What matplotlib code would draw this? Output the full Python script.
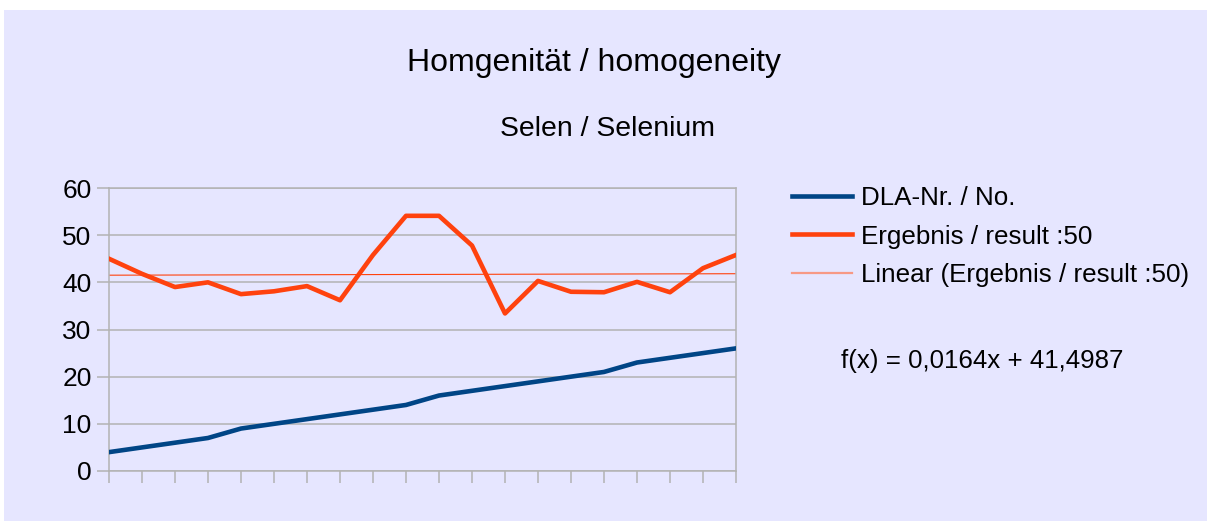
import matplotlib.pyplot as plt
from matplotlib.patches import Rectangle

plt.rcParams['font.family'] = ['Liberation Sans', 'DejaVu Sans']

samples = list(range(1, 21))
dla_no = [4, 5, 6, 7, 9, 10, 11, 12, 13, 14, 16, 17, 18, 19, 20, 21, 23, 24, 25, 26]
result = [45.0, 41.8, 39.0, 40.0, 37.5, 38.1, 39.2, 36.2, 45.8, 54.1,
          54.1, 47.8, 33.4, 40.3, 38.0, 37.9, 40.1, 37.9, 43.0, 45.8]
trend_slope = 0.0164
trend_intercept = 41.4987

bg = '#E6E6FF'
grid_col = '#B3B3B3'
blue = '#004586'
orange = '#FF420E'

W, H = 1207, 521
fig = plt.figure(figsize=(W / 100, H / 100), dpi=100, facecolor='white')
fig.patches.append(Rectangle((4 / W, 0), 1, (H - 10) / H, transform=fig.transFigure,
                             facecolor=bg, edgecolor='none', zorder=-10))

ax = fig.add_axes([109 / W, 1 - 471 / H, (736 - 109) / W, (471 - 188) / H])
ax.set_facecolor(bg)

trend = [trend_slope * x + trend_intercept for x in samples]
ax.plot(samples, dla_no, color=blue, lw=3.3, label='DLA-Nr. / No.', zorder=3)
ax.plot(samples, result, color=orange, lw=3.3, label='Ergebnis / result :50', zorder=3)
ax.plot(samples, trend, color=orange, lw=0.8, label='Linear (Ergebnis / result :50)', zorder=2)

ax.set_xlim(1, 20)
ax.set_ylim(0, 60)
ax.set_yticks(range(0, 61, 10))
ax.set_xticks(samples)
ax.set_xticklabels([])
ax.yaxis.grid(True, color=grid_col, lw=1.1)
ax.set_axisbelow(True)
for s in ax.spines.values():
    s.set_color(grid_col)
    s.set_linewidth(1.1)
ax.tick_params(axis='both', color=grid_col, width=1.1, length=8.5, labelsize=19, pad=4)

fig.text(0.492, 1 - 71 / H, 'Homgenität / homogeneity', fontsize=23, ha='center', va='baseline')
fig.text(0.503, 1 - 136 / H, 'Selen / Selenium', fontsize=20.4, ha='center', va='baseline')

leg = ax.legend(loc='upper left', bbox_to_anchor=(792 / W, 1 - 186 / H), bbox_transform=fig.transFigure,
                frameon=False, fontsize=18.7, handlelength=2.3, handletextpad=0.34,
                labelspacing=0.56, borderpad=0, borderaxespad=0)
leg.get_lines()[2].set_linewidth(1.6)
leg.get_lines()[2].set_color('#F79985')

fig.text(841 / W, 1 - 368 / H, 'f(x) = 0,0164x + 41,4987', fontsize=18.6, ha='left', va='baseline')

fig.savefig('out.png', dpi=100, facecolor='white')
